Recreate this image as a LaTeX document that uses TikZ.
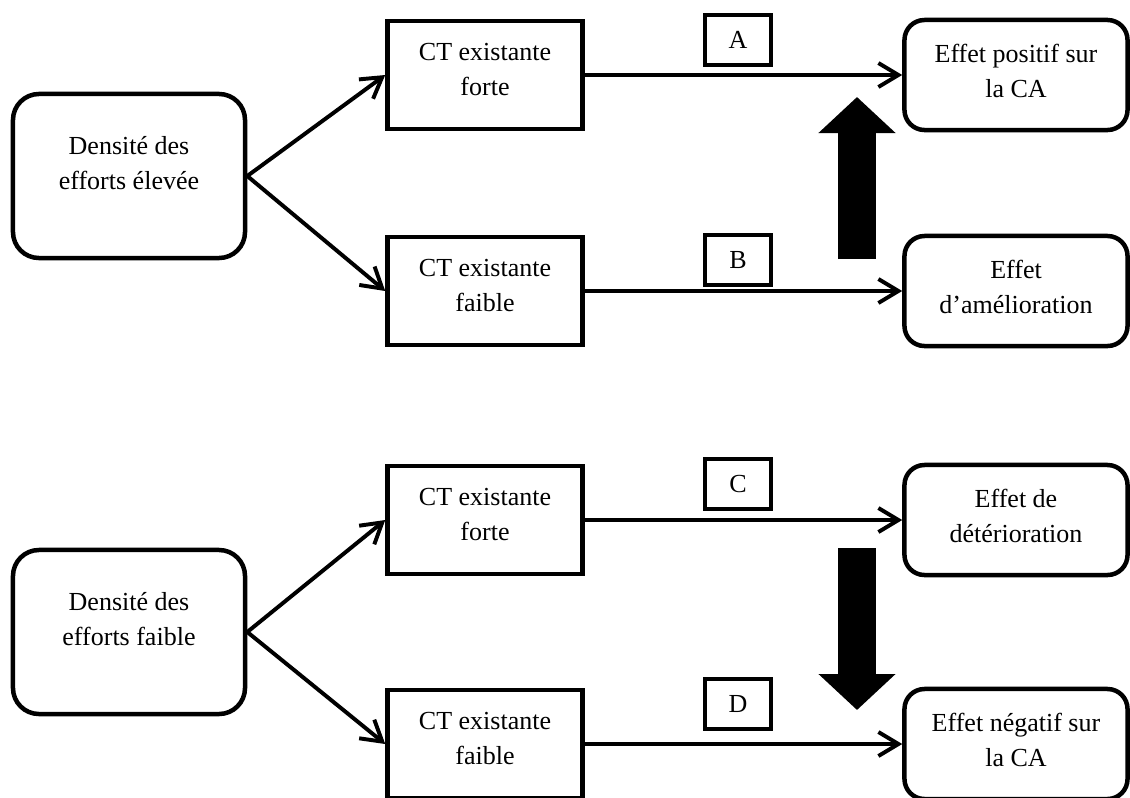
\documentclass[tikz,border=0pt]{standalone}
\usepackage{fontspec}
\setmainfont{Liberation Serif}
\usetikzlibrary{arrows.meta}
\newcommand{\liftlines}[2]{\raisebox{#1}[\height][\depth]{\begin{tabular}{@{}c@{}}#2\end{tabular}}}
\tikzset{
  densbox/.style={draw, line width=3.2pt, rounded corners=0.65cm, inner sep=0pt,
                  minimum width=5.8cm, minimum height=4.1cm},
  ctbox/.style={draw, line width=3.2pt, inner sep=0pt,
                minimum width=4.875cm, minimum height=2.7cm},
  effbox/.style={draw, line width=3.2pt, rounded corners=0.5cm, inner sep=0pt,
                 minimum width=5.575cm, minimum height=2.75cm},
  tagbox/.style={draw, line width=3.2pt, inner sep=0pt,
                 minimum width=1.65cm, minimum height=1.25cm},
  link/.style={line width=2.8pt, -{Straight Barb[length=0.5cm, width=0.6cm]}},
  bigarrow/.style={line width=0.95cm, -{Triangle[length=0.9cm, width=1.875cm]}},
}

\begin{document}
\begin{tikzpicture}[x=0.025cm, y=-0.025cm,
  every node/.style={font=\fontsize{18.5}{24.8}\selectfont}]
\useasboundingbox (0,0) rectangle (1130,797);

% --- Upper half: high effort density ---
\node[densbox] (dens1) at (129,176) {\liftlines{0.28cm}{Densité des\\efforts élevée}};
\node[ctbox] (ct1) at (485,75) {\liftlines{0.09cm}{CT existante\\forte}};
\node[ctbox] (ct2) at (485,291) {\liftlines{0.09cm}{CT existante\\faible}};
\node[effbox] (eff1) at (1016,75) {\liftlines{0.06cm}{Effet positif sur\\la CA}};
\node[effbox] (eff2) at (1016,291) {\liftlines{0.06cm}{Effet\\d’amélioration}};
\node[tagbox] (tagA) at (738,40) {A};
\node[tagbox] (tagB) at (738,260) {B};

\draw[link] (dens1.east) -- (ct1.west);
\draw[link] (dens1.east) -- (ct2.west);
\draw[link] (ct1) -- (eff1);
\draw[link] (ct2) -- (eff2);

% Thick arrow up
\coordinate (up1) at (857,259);
\coordinate (up2) at (857,97);
\draw[bigarrow] (up1) -- (up2);

% --- Lower half: low effort density ---
\node[densbox] (dens2) at (129,632) {\liftlines{0.28cm}{Densité des\\efforts faible}};
\node[ctbox] (ct3) at (485,520) {\liftlines{0.09cm}{CT existante\\forte}};
\node[ctbox] (ct4) at (485,744) {\liftlines{0.09cm}{CT existante\\faible}};
\node[effbox] (eff3) at (1016,520) {\liftlines{0.06cm}{Effet de\\détérioration}};
\node[effbox] (eff4) at (1016,744) {\liftlines{0.06cm}{Effet négatif sur\\la CA}};
\node[tagbox] (tagC) at (738,484) {C};
\node[tagbox] (tagD) at (738,704) {D};

\draw[link] (dens2.east) -- (ct3.west);
\draw[link] (dens2.east) -- (ct4.west);
\draw[link] (ct3) -- (eff3);
\draw[link] (ct4) -- (eff4);

% Thick arrow down
\coordinate (dn1) at (857,548);
\coordinate (dn2) at (857,710);
\draw[bigarrow] (dn1) -- (dn2);

\end{tikzpicture}
\end{document}
